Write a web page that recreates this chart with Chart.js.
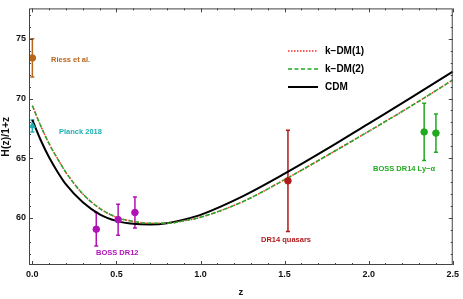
<!DOCTYPE html>
<html>
<head>
<meta charset="utf-8">
<script src="https://cdn.jsdelivr.net/npm/chart.js@4"></script>
<style>
  html, body { margin: 0; padding: 0; background: #fff; }
  #wrap { width: 463px; height: 299px; }
</style>
</head>
<body>
<div id="wrap"><canvas id="chart" width="463" height="299"></canvas></div>
<script>
// model curves
const zGrid = [0, 0.05, 0.1, 0.15, 0.2, 0.3, 0.4, 0.5, 0.6, 0.7, 0.8, 0.9, 1.0, 1.25, 1.5, 1.75, 2.0, 2.25, 2.5];
const cdm   = [68.2, 66.5, 65.05, 63.85, 62.8, 61.3, 60.3, 59.75, 59.5, 59.45, 59.55, 59.85, 60.25, 61.8, 63.7, 65.75, 67.9, 70.05, 72.25];
const kdm1  = [69.4, 67.7, 66.2, 64.95, 63.8, 62.0, 60.8, 60.05, 59.7, 59.55, 59.55, 59.75, 60.05, 61.35, 63.2, 65.2, 67.25, 69.35, 71.55];
const kdm2  = [69.4, 67.7, 66.2, 64.95, 63.8, 62.0, 60.8, 60.05, 59.7, 59.55, 59.55, 59.75, 60.05, 61.35, 63.2, 65.2, 67.25, 69.35, 71.55];

// measurements
const riessZ = [0],    riessH = [73.4],  riessErr = [1.6];
const planckZ = [0],   planckH = [67.7], planckErr = [0.5];
const dr12Z = [0.38, 0.51, 0.61], dr12H = [59.05, 59.85, 60.45], dr12Err = [1.4, 1.3, 1.3];
const qsoZ = [1.52],   qsoH = [63.1],    qsoErr = [4.25];
const lyaZ = [2.33, 2.40], lyaH = [67.2, 67.1], lyaErr = [2.4, 1.6];

const xTicks = [0, 0.5, 1.0, 1.5, 2.0, 2.5];
const yTicks = [60, 65, 70, 75];

const C_RIESS = "#b8661c", C_PLANCK = "#1fb0b3", C_DR12 = "#b012b5", C_QSO = "#b01a1a", C_LYA = "#20aa20";
const FONT = "'Liberation Sans', Arial, sans-serif";

const pts = (xs, ys) => xs.map((x, i) => ({ x: x, y: ys[i] }));

const measurements = [
  { z: riessZ, h: riessH, e: riessErr, color: C_RIESS, label: "Riess et al.", lx: 51, ly: 60 },
  { z: planckZ, h: planckH, e: planckErr, color: C_PLANCK, label: "Planck 2018", lx: 59, ly: 132 },
  { z: dr12Z, h: dr12H, e: dr12Err, color: C_DR12, label: "BOSS DR12", lx: 96, ly: 253 },
  { z: qsoZ, h: qsoH, e: qsoErr, color: C_QSO, label: "DR14 quasars", lx: 261, ly: 240 },
  { z: lyaZ, h: lyaH, e: lyaErr, color: C_LYA, label: "BOSS DR14 Ly\u2212\u03b1", lx: 373, ly: 169 }
];

const curveSets = [
  { label: "k\u2212DM(1)", data: pts(zGrid, kdm1), borderColor: "#ff2a2a", borderWidth: 1.5, borderDash: [1.5, 1.5], order: 2 },
  { label: "k\u2212DM(2)", data: pts(zGrid, kdm2), borderColor: "#22a822", borderWidth: 1.5, borderDash: [4, 2.5], order: 1 },
  { label: "CDM", data: pts(zGrid, cdm), borderColor: "#000000", borderWidth: 2, borderDash: [], order: 3 }
];

const datasets = curveSets.map(c => Object.assign({
  pointRadius: 0, fill: false, cubicInterpolationMode: "monotone", clip: false
}, c));

measurements.forEach(m => {
  datasets.push({
    type: "scatter",
    label: m.label,
    data: pts(m.z, m.h),
    backgroundColor: m.color,
    borderColor: m.color,
    pointRadius: m.label === "Planck 2018" ? 3.5 : 3.3,
    pointStyle: m.label === "Planck 2018" ? "triangle" : "circle",
    order: 0
  });
});

const errorBars = {
  id: "errorBars",
  beforeDatasetsDraw(chart) {
    const c = chart.ctx, xs = chart.scales.x, ys = chart.scales.y;
    c.save();
    c.lineWidth = 1.5;
    measurements.forEach(m => {
      c.strokeStyle = m.color;
      m.z.forEach((z, i) => {
        const px = xs.getPixelForValue(z);
        const top = ys.getPixelForValue(m.h[i] + m.e[i]);
        const bot = ys.getPixelForValue(m.h[i] - m.e[i]);
        c.beginPath();
        c.moveTo(px, top); c.lineTo(px, bot);
        c.moveTo(px - 2, top); c.lineTo(px + 2, top);
        c.moveTo(px - 2, bot); c.lineTo(px + 2, bot);
        c.stroke();
      });
    });
    c.restore();
  }
};

const frameAndLabels = {
  id: "frameAndLabels",
  afterDraw(chart) {
    const c = chart.ctx, a = chart.chartArea, xs = chart.scales.x, ys = chart.scales.y;
    c.save();
    // frame
    c.strokeStyle = "#444";
    c.lineWidth = 1;
    c.strokeRect(a.left + 0.5, a.top + 0.5, a.right - a.left - 1, a.bottom - a.top - 1);
    // inward ticks
    c.beginPath();
    for (let k = 0; k <= 25; k++) {
      const v = k / 10;
      const len = k % 5 === 0 ? 4 : 2;
      const px = Math.round(xs.getPixelForValue(v)) + 0.5;
      c.moveTo(px, a.bottom); c.lineTo(px, a.bottom - len);
      c.moveTo(px, a.top); c.lineTo(px, a.top + len);
    }
    for (let v = 57; v <= 77; v++) {
      const len = v % 5 === 0 ? 4 : 2;
      const py = Math.round(ys.getPixelForValue(v)) + 0.5;
      c.moveTo(a.left, py); c.lineTo(a.left + len, py);
      c.moveTo(a.right, py); c.lineTo(a.right - len, py);
    }
    c.stroke();

    // text labels for data
    c.font = "bold 7.5px " + FONT;
    c.textBaseline = "middle";
    c.textAlign = "left";
    measurements.forEach(m => {
      c.fillStyle = m.color;
      c.fillText(m.label, m.lx, m.ly);
    });

    // legend
    const ly = [51, 69, 87];
    c.font = "bold 10px " + FONT;
    curveSets.forEach((s, i) => {
      c.strokeStyle = s.borderColor;
      c.lineWidth = s.borderWidth;
      c.setLineDash(s.borderDash);
      c.beginPath();
      c.moveTo(288, ly[i]); c.lineTo(318, ly[i]);
      c.stroke();
      c.setLineDash([]);
      c.fillStyle = "#000";
      c.fillText(s.label, 325, ly[i]);
    });
    c.restore();
  }
};

new Chart(document.getElementById("chart").getContext("2d"), {
  type: "line",
  data: { datasets: datasets },
  options: {
    responsive: false,
    animation: false,
    layout: { padding: { top: 3, right: 8, left: 0, bottom: 0 } },
    plugins: { legend: { display: false }, tooltip: { enabled: false } },
    scales: {
      x: {
        type: "linear",
        min: -0.02, max: 2.5,
        afterBuildTicks: s => { s.ticks = xTicks.map(v => ({ value: v })); },
        afterFit: s => { s.height = 34; },
        grid: { display: false, drawTicks: false },
        border: { display: false },
        ticks: {
          padding: 4,
          color: "#111",
          font: { family: FONT, size: 9, weight: "bold" },
          callback: v => v.toFixed(1)
        },
        title: {
          display: true, text: "z", color: "#111", padding: { top: 2, bottom: 1 },
          font: { family: FONT, size: 9.5, weight: "bold" }
        }
      },
      y: {
        type: "linear",
        min: 56.05, max: 77.55,
        afterBuildTicks: s => { s.ticks = yTicks.map(v => ({ value: v })); },
        afterFit: s => { s.width = 29; },
        grid: { display: false, drawTicks: false },
        border: { display: false },
        ticks: {
          padding: 3,
          color: "#111",
          font: { family: FONT, size: 9, weight: "bold" }
        },
        title: {
          display: true, text: "H(z)/1+z", color: "#111", padding: { top: 0, bottom: 0 },
          font: { family: FONT, size: 10.5, weight: "bold" }
        }
      }
    }
  },
  plugins: [errorBars, frameAndLabels]
});
</script>
</body>
</html>
